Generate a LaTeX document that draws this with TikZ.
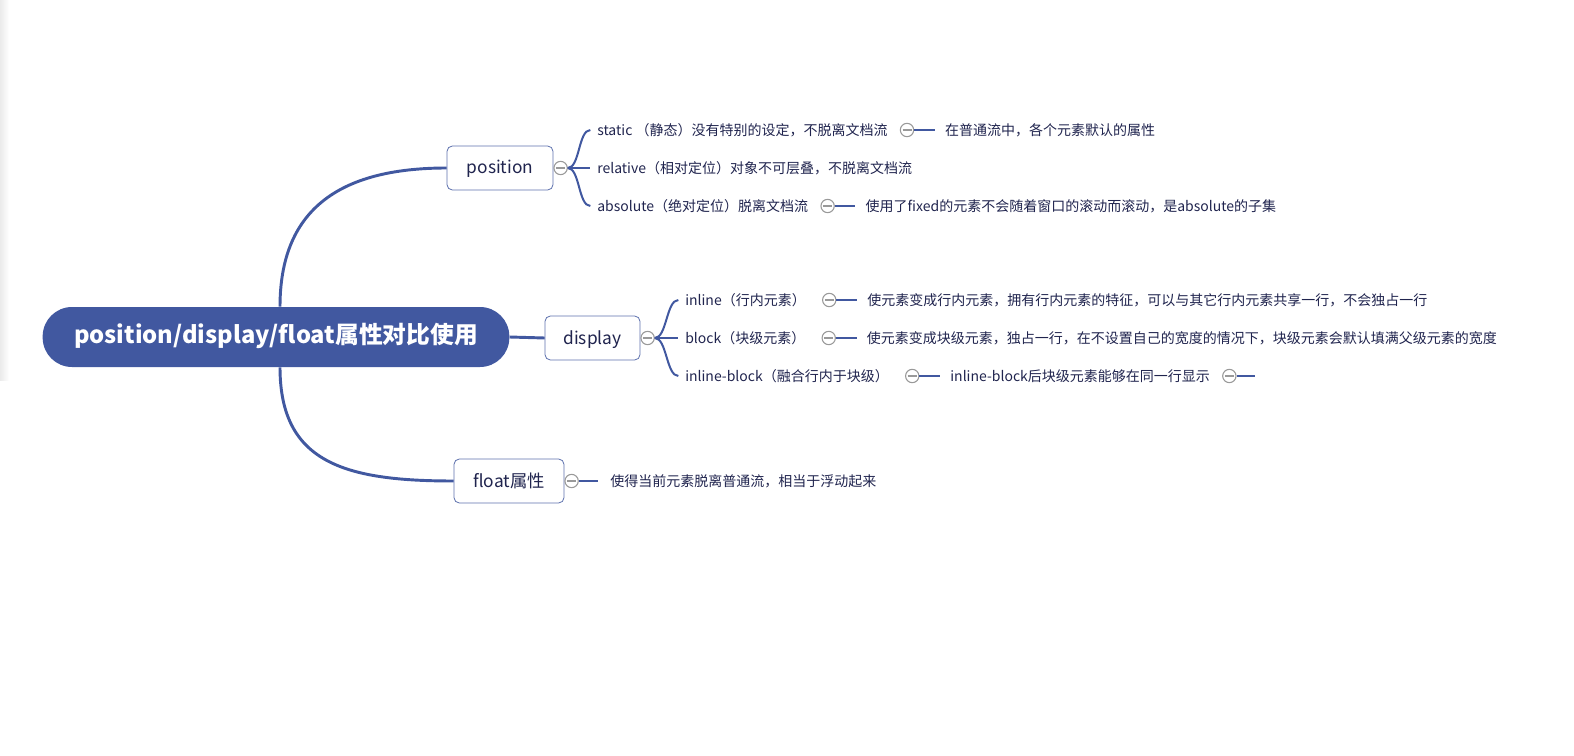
\documentclass[tikz,border=0pt]{standalone}
\usepackage{fontspec}
\setmainfont{Noto Sans CJK SC}
\usepackage{tikz}
\usetikzlibrary{positioning, calc}
\definecolor{mapblue}{RGB}{65,88,160}
\definecolor{inkblue}{RGB}{32,36,78}

\begin{document}
\begin{tikzpicture}[x=0.75pt, y=-0.75pt,
        root/.style={fill=mapblue, text=white, rounded corners=22pt, minimum width=350pt, minimum height=45pt, text height=1.05em, text depth=0.15em, font=\fontsize{17.8}{20}\selectfont\bfseries},
        topic/.style={draw=mapblue!85, fill=white, rounded corners=4pt, minimum height=33pt, line width=0.6pt, text height=1.05em, text depth=0.15em, font=\fontsize{13}{15}\selectfont, text=inkblue},
        leaf/.style={anchor=west, inner sep=0pt, text height=0.95em, text depth=0.15em, font=\fontsize{10.5}{12}\selectfont, text=inkblue},
        fold/.style={circle, draw=black!40, fill=white, minimum size=10pt, inner sep=0pt, line width=0.8pt,
            path picture={\draw[black!40, line width=1.1pt] ($(path picture bounding box.center)+(-4.5,0)$) -- ($(path picture bounding box.center)+(4.5,0)$);}},
        link/.style={draw=mapblue, line width=1.5pt},
        trunk/.style={draw=mapblue, line width=2.2pt},
    ]
        \useasboundingbox (0,0) rectangle (1574,756);
        \shade[left color=black!8, right color=white] (0,0) rectangle (9,380);

        \node[root] (map) at (276,337) {position/display/float属性对比使用};
        \node[topic, minimum width=79.5pt] (pos) at (500,168) {position};
        \node[topic, minimum width=71.25pt] (disp) at (592.5,338) {display};
        \node[topic, minimum width=82.5pt] (flt) at (509,481) {float属性};
        \node[fold, right=0pt of pos] (posf) {};
        \node[fold, right=0pt of disp] (dispf) {};
        \node[fold, right=0pt of flt] (fltf) {};

        \node[leaf] (static) at (597,130) {static （静态）没有特别的设定，不脱离文档流};
        \node[leaf] (relative) at (597,168) {relative（相对定位）对象不可层叠，不脱离文档流};
        \node[leaf] (absolute) at (597,206) {absolute（绝对定位）脱离文档流};
        \node[fold, right=9pt of static] (staticf) {};
        \node[fold, right=9pt of absolute] (absolutef) {};
        \node[leaf, right=23pt of staticf] (staticnote) {在普通流中，各个元素默认的属性};
        \node[leaf, right=23pt of absolutef] (absolutenote) {使用了fixed的元素不会随着窗口的滚动而滚动，是absolute的子集};

        \node[leaf] (inline) at (685,300) {inline（行内元素）};
        \node[leaf] (block) at (685,338) {block（块级元素）};
        \node[leaf] (iblock) at (685,376) {inline-block（融合行内于块级）};
        \node[fold, right=12pt of inline] (inlinef) {};
        \node[fold, right=12pt of block] (blockf) {};
        \node[fold, right=12pt of iblock] (iblockf) {};
        \node[leaf, right=23pt of inlinef] (inlinenote) {使元素变成行内元素，拥有行内元素的特征，可以与其它行内元素共享一行，不会独占一行};
        \node[leaf, right=23pt of blockf] (blocknote) {使元素变成块级元素，独占一行，在不设置自己的宽度的情况下，块级元素会默认填满父级元素的宽度};
        \node[leaf, right=23pt of iblockf] (iblocknote) {inline-block后块级元素能够在同一行显示};
        \node[fold, right=9pt of iblocknote] (iblocknotef) {};
        \coordinate[right=14pt of iblocknotef] (iblockend);

        \node[leaf] (fltnote) at (610,481) {使得当前元素脱离普通流，相当于浮动起来};

        \draw[trunk] ([xshift=3pt]map.north) .. controls +(0,-95) and +(-110,0) .. (pos.west);
        \draw[trunk] ([xshift=3pt]map.south) .. controls +(0,95) and +(-110,0) .. (flt.west);
        \draw[trunk] (map.east) -- (disp.west);

        \foreach \n in {static,relative,absolute} { \draw[link] (posf.east) .. controls +(12,0) and +(-12,0) .. ([xshift=-5pt]\n.west); }
        \foreach \n in {inline,block,iblock} { \draw[link] (dispf.east) .. controls +(12,0) and +(-12,0) .. ([xshift=-5pt]\n.west); }
        \draw[link] (fltf.east) -- ([xshift=-9pt]fltnote.west);

        \foreach \n in {static,absolute,inline,block,iblock} { \draw[link] (\n f.east) -- ([xshift=-7.5pt]\n note.west); }
        \draw[link] (iblocknotef.east) -- (iblockend);
    \end{tikzpicture}
\end{document}
